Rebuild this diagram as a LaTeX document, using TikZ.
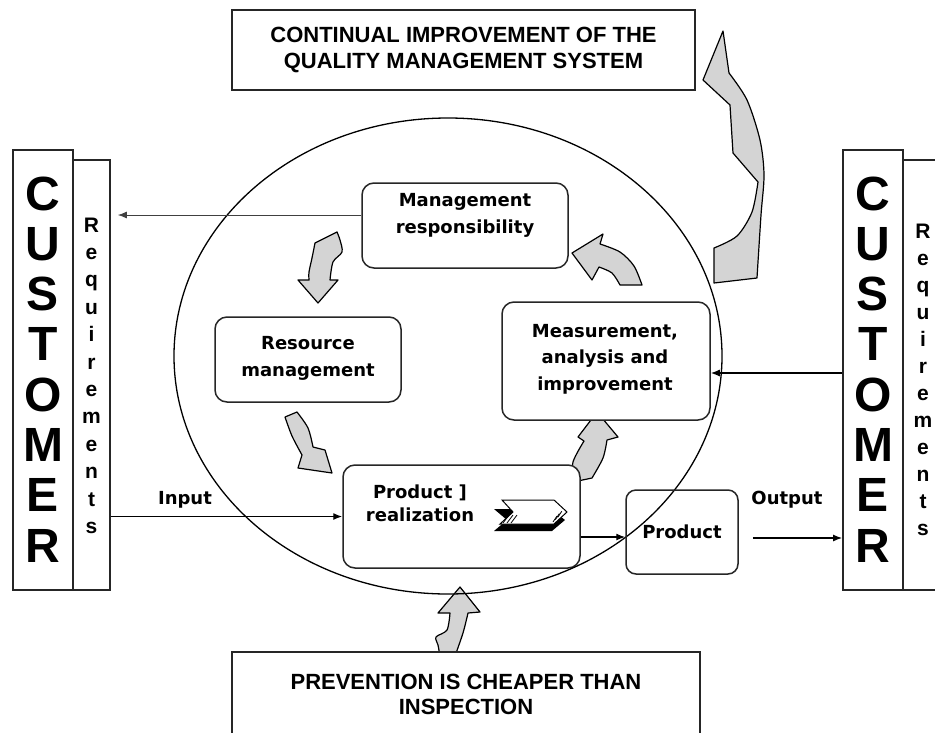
\documentclass[tikz,border=0pt]{standalone}
\usepackage{fontspec}
\setmainfont{Liberation Sans}
\newfontfamily\boxfont{DejaVu Sans}
\usetikzlibrary{arrows.meta}
\begin{document}
\begin{tikzpicture}[x=1pt,y=-1pt,
  procbox/.style={draw=black!85, line width=1.5pt, rounded corners=12pt, fill=white, inner sep=0pt},
  plainbox/.style={draw=black!85, line width=1.8pt, fill=white, inner sep=0pt},
  boxtext/.style={font=\boxfont\bfseries\fontsize{18}{27}\selectfont, align=center, inner sep=0pt},
  captext/.style={font=\bfseries\fontsize{22}{26}\selectfont, align=center, inner sep=0pt},
  bigletter/.style={font=\bfseries\fontsize{48}{48}\selectfont, inner sep=0pt, anchor=base},
  smallletter/.style={font=\bfseries\fontsize{21}{21}\selectfont, inner sep=0pt, anchor=base},
  blockarrow/.style={draw=black, line width=1.2pt, fill=black!17, line join=round},
  flow/.style={-{Latex[length=9pt,width=7pt]}, line width=1.3pt},
  thinflow/.style={-{Latex[length=9pt,width=7pt]}, line width=0.8pt, draw=black!75},
]
\clip (0,0) rectangle (935,732);
\fill[white] (0,0) rectangle (935,732);

% ---------- block arrows (drawn first) ----------
\draw[blockarrow] (723,31) -- (729,73)
  -- plot[smooth] coordinates {(729,73) (747,100) (760,140) (764,175) (761,215) (757,278)}
  -- (714,283) -- (714,248)
  -- plot[smooth] coordinates {(714,248) (737,236) (752,212) (758,182)}
  -- (733,153) -- (730,105) -- (703,80) -- cycle;
\draw[blockarrow] (337,232) -- (315,243)
  -- plot[smooth] coordinates {(315,243) (312,258) (309,272) (309,280)}
  -- (298,280) -- (318,303) -- (338,280) -- (330,280)
  -- plot[smooth] coordinates {(330,280) (333,262) (342,252) (340,240) (337,232)} -- cycle;
\draw[blockarrow] (285,417) -- (297,412)
  -- plot[smooth] coordinates {(297,412) (308,428) (313,447)}
  -- (325,450) -- (332,473) -- (298,468) -- (302,455)
  -- plot[smooth] coordinates {(302,455) (292,436) (285,417)} -- cycle;
\draw[blockarrow] (573,482)
  -- plot[smooth] coordinates {(573,482) (573,462) (584,441)}
  -- (578,437) -- (597,412) -- (618,437) -- (607,440)
  -- plot[smooth] coordinates {(607,440) (603,458) (592,478)} -- cycle;
\draw[blockarrow] (572,253) -- (603,234) -- (600,244)
  -- plot[smooth] coordinates {(600,244) (620,252) (634,266) (642,285)}
  -- (620,285)
  -- plot[smooth] coordinates {(620,285) (612,273) (599,267)}
  -- (592,280) -- cycle;
\draw[blockarrow] (460,587) -- (480,612) -- (468,613)
  -- plot[smooth] coordinates {(468,613) (463,633) (455,656)}
  -- (440,656)
  -- plot[smooth] coordinates {(440,656) (438,645) (436,637) (447,630) (450,613)}
  -- (438,613) -- cycle;

% ---------- boxes ----------
\node[plainbox, minimum width=463pt, minimum height=80pt] (topbox) at (463.5,50) {};
\node[captext] (toptext) at (463.5,50) {CONTINUAL IMPROVEMENT OF THE\\QUALITY MANAGEMENT SYSTEM};
\node[plainbox, minimum width=468pt, minimum height=88pt] (botbox) at (466,696) {};
\node[captext, font=\bfseries\fontsize{22}{25}\selectfont] (bottext) at (466,694) {PREVENTION IS CHEAPER THAN\\INSPECTION};

\node[plainbox, minimum width=60pt, minimum height=440pt] (custL) at (43,370) {};
\node[plainbox, minimum width=37pt, minimum height=430pt] (reqL) at (91.5,375) {};
\node[plainbox, minimum width=60pt, minimum height=440pt] (custR) at (873,370) {};
\node[plainbox, minimum width=60pt, minimum height=430pt] (reqR) at (933,375) {};

\foreach \l [count=\i from 0] in {C,U,S,T,O,M,E,R} {
  \node[bigletter] (cl\i) at (43,{210+50.3*\i}) {\l};
  \node[bigletter] (cr\i) at (873,{210+50.3*\i}) {\l};
}
\foreach \l [count=\i from 0] in {R,e,q,u,i,r,e,m,e,n,t,s} {
  \node[smallletter] (rl\i) at (91.5,{232+27.4*\i}) {\l};
  \node[smallletter] (rr\i) at (923,{238+27*\i}) {\l};
}

\node[procbox, minimum width=206pt, minimum height=85pt] (mgmt) at (465,225.5) {};
\node[boxtext] (mgmtT) at (465,215) {Management\\responsibility};
\node[procbox, minimum width=186pt, minimum height=85pt] (res) at (308,359.5) {};
\node[boxtext] (resT) at (308,358) {Resource\\management};
\node[procbox, minimum width=208pt, minimum height=118pt] (meas) at (606,361) {};
\node[boxtext, font=\boxfont\bfseries\fontsize{18}{26.5}\selectfont] (measT) at (605,359) {Measurement,\\analysis and\\improvement};
\node[procbox, minimum width=237pt, minimum height=103pt] (prodR) at (461.5,516.5) {};
\node[boxtext, font=\boxfont\bfseries\fontsize{18}{23}\selectfont] (prodRT) at (420,503) {Product ]\\realization};

% chevron symbol
\fill[black] (494,509) -- (551,509) -- (565,520) -- (552,531) -- (494,531) -- (507,520) -- cycle;
\draw[fill=white, line width=1pt] (502,500) -- (554,500) -- (567,512) -- (554,524) -- (500,524) -- (513,512) -- cycle;
\foreach \d in {0,4,8} {
  \draw[line width=0.8pt] ({503+\d},{523}) -- ({509+\d},{515});
  \draw[line width=0.8pt] ({553+\d*0.6},{522-\d*0.6}) -- ({557+\d*0.6},{516-\d*0.6});
}

% ---------- ellipse ----------
\draw[line width=1.3pt] (448,356) ellipse [x radius=274, y radius=238];

\node[draw=black!85, line width=1.5pt, rounded corners=10pt, inner sep=0pt, minimum width=112pt, minimum height=84pt] (product) at (682,532) {};
\node[boxtext] (productT) at (682,532) {Product};

% ---------- connectors ----------
\coordinate (mgmtOut) at ([yshift=10.5pt]mgmt.west);
\draw[thinflow, shorten >=7pt] (mgmtOut) -- (mgmtOut -| reqL.east);
\draw[flow] (reqL.east |- prodR.west) -- (prodR.west);
\coordinate (measIn) at ([yshift=-12pt]meas.east);
\draw[flow] (measIn -| custR.west) -- (measIn);
\coordinate (prOut) at ([yshift=-20.5pt]prodR.east);
\draw[flow] (prOut) -- (prOut -| product.west);
\coordinate (outS) at ([xshift=14pt,yshift=-6pt]product.east);
\draw[flow] (outS) -- (outS -| custR.west);

\node[boxtext] (inputT) at (185,500) {Input};
\node[boxtext] (outputT) at (787,500) {Output};
\end{tikzpicture}
\end{document}
